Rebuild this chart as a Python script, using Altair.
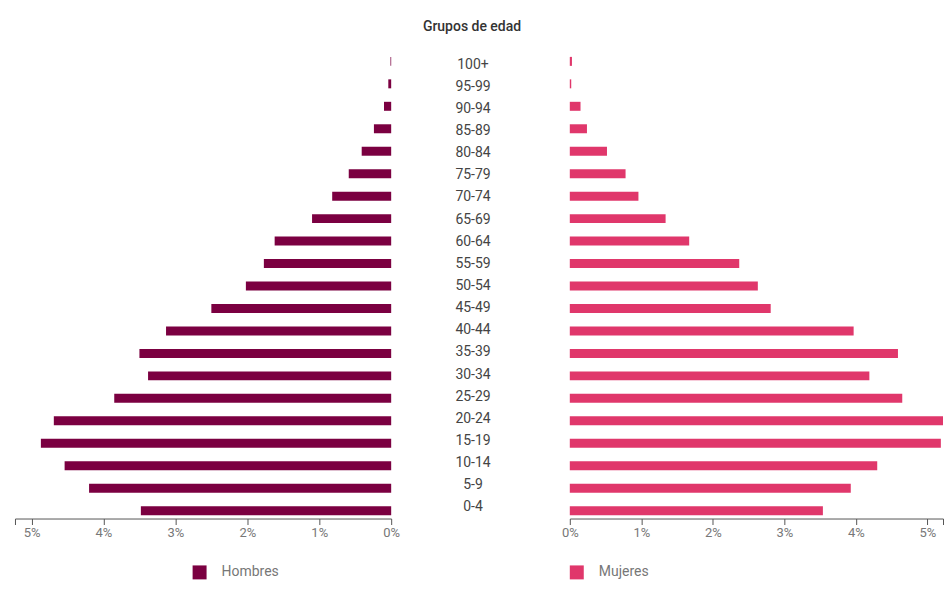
import altair as alt
import pandas as pd

grupos = ["100+", "95-99", "90-94", "85-89", "80-84", "75-79", "70-74", "65-69",
          "60-64", "55-59", "50-54", "45-49", "40-44", "35-39", "30-34", "25-29",
          "20-24", "15-19", "10-14", "5-9", "0-4"]
hombres = [0.01, 0.04, 0.10, 0.24, 0.41, 0.59, 0.82, 1.10, 1.62, 1.77, 2.02,
           2.50, 3.13, 3.50, 3.38, 3.85, 4.69, 4.87, 4.54, 4.20, 3.48]
mujeres = [0.03, 0.02, 0.15, 0.24, 0.52, 0.78, 0.96, 1.34, 1.67, 2.37, 2.63,
           2.81, 3.97, 4.59, 4.19, 4.65, 5.22, 5.19, 4.30, 3.93, 3.54]
ticks = [0, 1, 2, 3, 4, 5]
x_max_h = 5.23
x_max_m = 5.22

df_h = pd.DataFrame({"grupo": grupos, "valor": hombres, "sexo": "Hombres"})
df_m = pd.DataFrame({"grupo": grupos, "valor": mujeres, "sexo": "Mujeres"})
df_g = pd.DataFrame({"grupo": grupos})

FONT = "Roboto"
H = 466
yscale = alt.Scale(paddingInner=0.6, paddingOuter=0.15)

def x_axis(xmax):
    return alt.Axis(values=ticks + [xmax],
                    labelExpr="datum.value > 5.1 ? '' : datum.value + '%'",
                    title=None, grid=False, labelFlush=False, labelOverlap=False,
                    domainColor="#555", tickColor="#555", labelColor="#777",
                    labelFontSize=13, tickSize=6, labelPadding=2, labelFont=FONT)

def legend(x):
    return alt.Legend(orient="none", legendX=x, legendY=513, title=None,
                      symbolType="square", symbolSize=196, symbolStrokeWidth=0,
                      labelFontSize=14, labelColor="#777", labelFont=FONT,
                      labelOffset=15, padding=0)

left = alt.Chart(df_h).mark_bar().encode(
    x=alt.X("valor:Q", scale=alt.Scale(domain=[0, x_max_h], reverse=True, nice=False),
            axis=x_axis(x_max_h)),
    y=alt.Y("grupo:N", sort=grupos, scale=yscale, axis=None),
    color=alt.Color("sexo:N", scale=alt.Scale(domain=["Hombres"], range=["#7b0041"]), legend=legend(178)),
).properties(width=377, height=H)

center = alt.Chart(df_g).mark_text(font=FONT, fontSize=14, color="#444", align="center", baseline="middle").encode(
    y=alt.Y("grupo:N", sort=grupos, scale=yscale, axis=None),
    x=alt.value(82),
    text="grupo:N",
).properties(width=179, height=H)

right = alt.Chart(df_m).mark_bar().encode(
    x=alt.X("valor:Q", scale=alt.Scale(domain=[0, x_max_m], nice=False), axis=x_axis(x_max_m)),
    y=alt.Y("grupo:N", sort=grupos, scale=yscale, axis=None),
    color=alt.Color("sexo:N", scale=alt.Scale(domain=["Mujeres"], range=["#e0376b"]), legend=legend(0)),
).properties(width=374, height=H)

chart = alt.HConcatChart(hconcat=[left, center, right], spacing=0, bounds="flush").resolve_scale(
    x="independent", color="independent"
).properties(
    title=alt.TitleParams("Grupos de edad", font=FONT, fontSize=14, fontWeight=500,
                          color="#333", anchor="middle", dx=-7, offset=20),
    padding={"left": 6, "top": 11, "right": 0, "bottom": 0},
).configure_view(stroke=None)

chart.save("out.html", embed_options={"renderer": "svg", "actions": False})
